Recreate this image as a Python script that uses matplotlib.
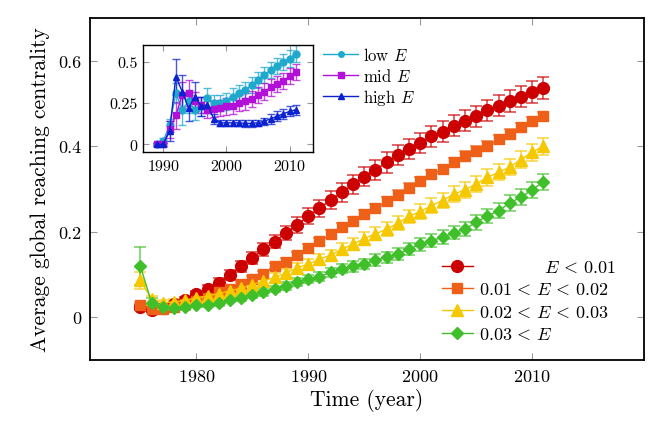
import matplotlib
matplotlib.use("Agg")
import matplotlib.pyplot as plt
import numpy as np

plt.rcParams['font.family'] = ['cmr10', 'DejaVu Serif']
plt.rcParams['mathtext.fontset'] = 'cm'
plt.rcParams['axes.unicode_minus'] = False
plt.rcParams['axes.formatter.use_mathtext'] = True

# main plot: years 1975-2011
years = np.arange(1975, 2012)

red = [0.023, 0.017, 0.022, 0.030, 0.041, 0.054, 0.067, 0.081, 0.098, 0.119,
       0.138, 0.159, 0.177, 0.197, 0.216, 0.236, 0.255, 0.274, 0.292, 0.311,
       0.329, 0.345, 0.362, 0.380, 0.394, 0.408, 0.423, 0.434, 0.448, 0.460,
       0.470, 0.484, 0.495, 0.506, 0.516, 0.527, 0.536]
red_err = [0.006, 0.005, 0.005, 0.006, 0.007, 0.008, 0.009, 0.010, 0.012, 0.013,
           0.014, 0.015, 0.016, 0.017, 0.018, 0.019, 0.020, 0.021, 0.022, 0.022,
           0.023, 0.023, 0.024, 0.024, 0.024, 0.024, 0.025, 0.025, 0.025, 0.025,
           0.025, 0.025, 0.025, 0.025, 0.025, 0.025, 0.025]

orange = [0.028, 0.019, 0.020, 0.025, 0.030, 0.037, 0.045, 0.058, 0.066, 0.077,
          0.089, 0.101, 0.119, 0.130, 0.145, 0.163, 0.178, 0.194, 0.212, 0.226,
          0.242, 0.256, 0.271, 0.287, 0.303, 0.318, 0.334, 0.347, 0.362, 0.378,
          0.389, 0.401, 0.416, 0.429, 0.444, 0.458, 0.470]
orange_err = [0.005, 0.004, 0.004, 0.004, 0.005, 0.005, 0.005, 0.006, 0.006, 0.006,
              0.007, 0.007, 0.007, 0.008, 0.008, 0.008, 0.008, 0.009, 0.009, 0.009,
              0.009, 0.010, 0.010, 0.010, 0.010, 0.010, 0.010, 0.010, 0.010, 0.011,
              0.011, 0.011, 0.011, 0.011, 0.011, 0.011, 0.011]

yellow = [0.087, 0.042, 0.034, 0.036, 0.040, 0.045, 0.050, 0.055, 0.062, 0.068,
          0.076, 0.085, 0.093, 0.103, 0.116, 0.124, 0.136, 0.145, 0.159, 0.171,
          0.184, 0.195, 0.206, 0.220, 0.236, 0.247, 0.261, 0.273, 0.288, 0.298,
          0.312, 0.327, 0.339, 0.351, 0.369, 0.386, 0.400]
yellow_err = [0.020, 0.008, 0.006, 0.006, 0.006, 0.006, 0.007, 0.007, 0.008, 0.008,
              0.009, 0.010, 0.010, 0.011, 0.012, 0.012, 0.013, 0.013, 0.014, 0.014,
              0.015, 0.015, 0.016, 0.016, 0.016, 0.017, 0.017, 0.017, 0.018, 0.018,
              0.018, 0.019, 0.019, 0.019, 0.020, 0.020, 0.020]

green = [0.120, 0.034, 0.024, 0.021, 0.023, 0.028, 0.029, 0.033, 0.041, 0.046,
         0.052, 0.058, 0.066, 0.073, 0.083, 0.089, 0.095, 0.105, 0.114, 0.119,
         0.124, 0.134, 0.140, 0.148, 0.159, 0.171, 0.179, 0.187, 0.198, 0.206,
         0.222, 0.237, 0.249, 0.267, 0.281, 0.298, 0.317]
green_err = [0.045, 0.010, 0.006, 0.005, 0.005, 0.005, 0.006, 0.006, 0.006, 0.007,
             0.007, 0.008, 0.008, 0.009, 0.009, 0.010, 0.010, 0.011, 0.011, 0.012,
             0.012, 0.013, 0.013, 0.014, 0.014, 0.015, 0.015, 0.016, 0.016, 0.016,
             0.017, 0.017, 0.018, 0.018, 0.018, 0.019, 0.019]

main_labels = [r'$\qquad\quad\;\;\;\; E\,<\,0.01$', r'$0.01\,<\,E\,<\,0.02$',
               r'$0.02\,<\,E\,<\,0.03$', r'$0.03\,<\,E$']

# inset: years 1989-2011
years_in = np.arange(1989, 2012)
low = [0.0, 0.02, 0.115, 0.31, 0.21, 0.26, 0.21, 0.23, 0.28, 0.25, 0.25, 0.26,
       0.29, 0.31, 0.33, 0.36, 0.39, 0.42, 0.45, 0.475, 0.50, 0.52, 0.55]
low_err = [0.01, 0.02, 0.04, 0.06, 0.09, 0.07, 0.06, 0.06, 0.06, 0.05, 0.05, 0.05,
           0.05, 0.05, 0.05, 0.05, 0.05, 0.05, 0.05, 0.05, 0.05, 0.05, 0.05]
mid = [0.0, 0.0, 0.09, 0.175, 0.30, 0.31, 0.26, 0.24, 0.21, 0.215, 0.22, 0.23,
       0.235, 0.25, 0.26, 0.275, 0.30, 0.32, 0.345, 0.365, 0.385, 0.415, 0.44]
mid_err = [0.01, 0.01, 0.05, 0.08, 0.08, 0.08, 0.06, 0.05, 0.05, 0.05, 0.05, 0.05,
           0.05, 0.05, 0.05, 0.05, 0.05, 0.05, 0.05, 0.05, 0.05, 0.05, 0.05]
high = [0.0, 0.0, 0.08, 0.41, 0.32, 0.22, 0.29, 0.23, 0.24, 0.155, 0.13, 0.13,
        0.13, 0.13, 0.127, 0.127, 0.13, 0.14, 0.155, 0.17, 0.185, 0.20, 0.21]
high_err = [0.01, 0.01, 0.06, 0.11, 0.10, 0.08, 0.09, 0.06, 0.05, 0.03, 0.02, 0.02,
            0.02, 0.02, 0.02, 0.02, 0.02, 0.02, 0.03, 0.03, 0.03, 0.03, 0.03]
inset_labels = ['low $E$', 'mid $E$', 'high $E$']

fig = plt.figure(figsize=(6.64, 4.39), dpi=100)
ax = fig.add_axes([90/664, 78/439, 554/664, 342/439])

series = [(red, red_err, '#cc0000', 'o', 8.5),
          (orange, orange_err, '#ee5f17', 's', 7.5),
          (yellow, yellow_err, '#f5c800', '^', 8.5),
          (green, green_err, '#3fc02a', 'D', 6.5)]
for (vals, err, col, mk, ms), lab in zip(series, main_labels):
    eb = ax.errorbar(years, vals, yerr=err, color=col, marker=mk, ms=ms, lw=1,
                     elinewidth=1.2, capsize=4, capthick=1.2, ecolor=col, label=lab)
    for c in eb[1] + eb[2]:
        c.set_alpha(0.7)

ax.set_xlim(1970.5, 2020)
ax.set_ylim(-0.1, 0.7)
ax.set_xticks([1980, 1990, 2000, 2010])
ax.set_yticks([0, 0.2, 0.4, 0.6])
ax.set_yticklabels(['0', '0.2', '0.4', '0.6'])
ax.tick_params(direction='in', top=True, right=True, color='#999999', length=5,
               labelsize=13, pad=6)
for s in ax.spines.values():
    s.set_linewidth(1.3)
ax.set_xlabel('Time (year)', fontsize=15.5, labelpad=3)
ax.set_ylabel('Average global reaching centrality', fontsize=15.5, labelpad=6)

h, l = ax.get_legend_handles_labels()
h = [x[0] for x in h]
ax.legend(h, l, loc='lower right', bbox_to_anchor=(0.962, 0.032), frameon=False,
          fontsize=13, handlelength=1.7, handletextpad=0.35, labelspacing=0.35,
          borderaxespad=0)

# inset
axi = fig.add_axes([143/664, (439-153)/439, 170/664, 107/439])
inset = [(low, low_err, '#1ea9cd', 'o', 5),
         (mid, mid_err, '#b20fd9', 's', 5),
         (high, high_err, '#0a22d0', '^', 5)]
for (vals, err, col, mk, ms), lab in zip(inset, inset_labels):
    eb = axi.errorbar(years_in, vals, yerr=err, color=col, marker=mk, ms=ms, lw=1,
                      elinewidth=1, capsize=3, capthick=1, ecolor=col, label=lab)
    for c in eb[1] + eb[2]:
        c.set_alpha(0.75)

axi.set_xlim(1986.8, 2013.7)
axi.set_ylim(-0.047, 0.603)
axi.set_xticks([1990, 2000, 2010])
axi.set_yticks([0, 0.25, 0.5])
axi.set_yticklabels(['0', '0.25', '0.5'])
axi.tick_params(direction='in', top=True, right=True, color='#999999', length=4,
                labelsize=11.5, pad=4)
for s in axi.spines.values():
    s.set_linewidth(1.0)

h, l = axi.get_legend_handles_labels()
h = [x[0] for x in h]
axi.legend(h, l, loc='upper left', bbox_to_anchor=(1.02, 1.05), frameon=False,
           fontsize=12, handlelength=2.1, handletextpad=0.3, labelspacing=0.2,
           borderaxespad=0, markerscale=0.8)

fig.savefig('out.png', dpi=100)
